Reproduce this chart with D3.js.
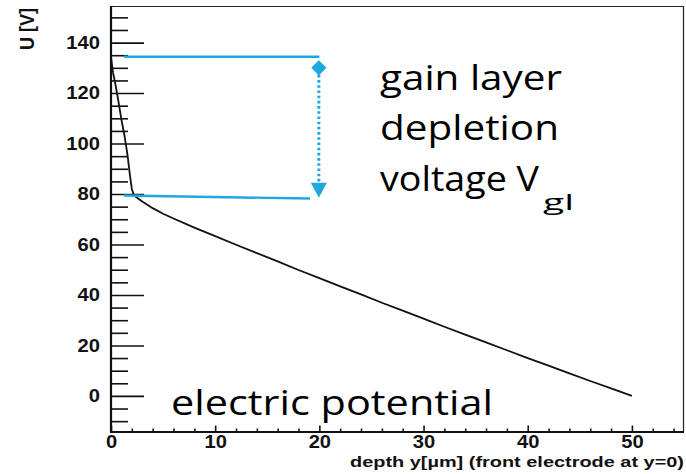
<!DOCTYPE html>
<html>
<head>
<meta charset="utf-8">
<script src="https://cdn.jsdelivr.net/npm/d3@7"></script>
<style>
  html, body { margin: 0; padding: 0; background: #fff; }
  svg { display: block; }
</style>
</head>
<body>
<svg id="chart" width="686" height="474"></svg>
<script>
// Electric potential U along the sensor depth y (µm)
const depth = [0, 0.1, 0.2, 0.4, 0.7, 1.0, 1.3, 1.6, 1.8, 2.0, 2.2, 2.6, 3, 4, 5, 6,
  8, 10, 12, 14, 16, 18, 20, 22, 24, 26, 28, 30, 32, 34, 36, 38, 40, 42, 44, 46, 48, 50];
const potential = [134.5, 131, 128, 124, 117, 109.5, 103, 95, 88, 82, 79.5, 78.2, 77, 74.4, 72.2, 70.3,
  66.7, 63.3, 59.9, 56.6, 53.3, 49.9, 46.7, 43.4, 40.2, 36.9, 33.8, 30.6, 27.4, 24.3, 21.2, 18.1,
  15.0, 12.0, 8.9, 5.9, 3.0, 0];

// Axis ticks
const xMajorTicks = [0, 10, 20, 30, 40, 50];
const xMinorTicks = [2, 4, 6, 8, 12, 14, 16, 18, 22, 24, 26, 28, 32, 34, 36, 38, 42, 44, 46, 48, 52, 54];
const yMajorTicks = [0, 20, 40, 60, 80, 100, 120, 140];
const yMinorTicks = [-10, -5, 5, 10, 15, 25, 30, 35, 45, 50, 55, 65, 70, 75, 85, 90, 95, 105, 110, 115, 125, 130, 135, 145, 150];

// Gain layer depletion voltage marker: start/end depth and the two voltage levels
const markerDepth = [1.25, 20.0];
const markerLowerEndDepth = [1.25, 19.1];
const markerUpper = [134.4, 134.4];
const markerLower = [79.4, 78.2];
const arrowDepth = [19.95];
const arrowRange = [130, 78.5];

const labelLines = ["gain layer", "depletion", "voltage V"];
const labelSub = "gl";
const curveLabel = "electric potential";
const xTitle = "depth y[µm] (front electrode at y=0)";
const yTitle = "U [V]";

const svg = d3.select("#chart");
const plotLeft = 111, plotRight = 684, plotTop = 6, plotBottom = 432;

const x = d3.scaleLinear().domain([0, 55]).range([plotLeft, plotRight]);
const y = d3.scaleLinear().domain([-14.3, 154.5]).range([plotBottom, plotTop]);

const blue = "#1ea7e1";
const tickFont = "'Liberation Sans', Arial, Helvetica, sans-serif";

// Frame (thin top and right)
svg.append("line").attr("x1", plotLeft).attr("x2", plotRight).attr("y1", plotTop + 0.5).attr("y2", plotTop + 0.5)
  .attr("stroke", "#222").attr("stroke-width", 1.2);
svg.append("line").attr("x1", plotRight - 0.5).attr("x2", plotRight - 0.5).attr("y1", plotTop).attr("y2", plotBottom)
  .attr("stroke", "#222").attr("stroke-width", 1.2);

// Y axis: minor ticks, then major ticks with labels (ticks point into the plot)
const yMinor = svg.append("g").attr("transform", `translate(${plotLeft},0)`)
  .call(d3.axisLeft(y).tickValues(yMinorTicks).tickSizeInner(-17).tickSizeOuter(0).tickFormat(""));
const yMajor = svg.append("g").attr("transform", `translate(${plotLeft},0)`)
  .call(d3.axisLeft(y).tickValues(yMajorTicks).tickSizeInner(-33).tickSizeOuter(0).tickPadding(11).tickFormat(d3.format("d")));

// X axis
const xMinor = svg.append("g").attr("transform", `translate(0,${plotBottom})`)
  .call(d3.axisBottom(x).tickValues(xMinorTicks).tickSizeInner(-3.5).tickSizeOuter(0).tickFormat(""));
const xMajor = svg.append("g").attr("transform", `translate(0,${plotBottom})`)
  .call(d3.axisBottom(x).tickValues(xMajorTicks).tickSizeInner(-6.5).tickSizeOuter(0).tickPadding(3.5).tickFormat(d3.format("d")));

[yMinor, yMajor, xMinor, xMajor].forEach(g => {
  g.selectAll(".domain").remove();
  g.selectAll(".tick line").attr("stroke", "#111").attr("stroke-width", 1.6);
  g.selectAll(".tick text").attr("fill", "#111")
    .style("font-family", tickFont).style("font-weight", "bold").style("font-size", "18px");
});
xMajor.selectAll(".tick text").attr("transform", "scale(1.12,1)");
yMajor.selectAll(".tick text").each(function () {
  const t = d3.select(this);
  const tx = +t.attr("x");
  t.attr("x", 0).attr("transform", `translate(${tx},0) scale(1.12,1)`);
});

// Main axis lines
svg.append("line").attr("x1", plotLeft).attr("x2", plotLeft).attr("y1", plotTop).attr("y2", plotBottom + 1)
  .attr("stroke", "#111").attr("stroke-width", 2.2);
svg.append("line").attr("x1", plotLeft - 1).attr("x2", plotRight).attr("y1", plotBottom).attr("y2", plotBottom)
  .attr("stroke", "#111").attr("stroke-width", 2.2);

// Axis titles
svg.append("text")
  .attr("x", plotRight).attr("y", 466.5)
  .attr("text-anchor", "end")
  .attr("textLength", 334).attr("lengthAdjust", "spacingAndGlyphs")
  .style("font-family", tickFont).style("font-weight", "bold").style("font-size", "15px")
  .attr("fill", "#111")
  .text(xTitle);
svg.append("text")
  .attr("transform", "translate(34,8) rotate(-90)")
  .attr("text-anchor", "end")
  .attr("textLength", 42).attr("lengthAdjust", "spacingAndGlyphs")
  .style("font-family", tickFont).style("font-weight", "bold").style("font-size", "20px")
  .attr("fill", "#111")
  .text(yTitle);

// Potential curve
const pts = depth.map((d, i) => [d, potential[i]]);
svg.append("path")
  .datum(pts)
  .attr("fill", "none")
  .attr("stroke", "#111")
  .attr("stroke-width", 1.8)
  .attr("stroke-linejoin", "round")
  .attr("d", d3.line().x(d => x(d[0])).y(d => y(d[1])));

// Gain layer depletion voltage marker
svg.append("line")
  .attr("x1", x(markerDepth[0])).attr("x2", x(markerDepth[1]))
  .attr("y1", y(markerUpper[0])).attr("y2", y(markerUpper[1]))
  .attr("stroke", blue).attr("stroke-width", 2.4);
svg.append("line")
  .attr("x1", x(markerLowerEndDepth[0])).attr("x2", x(markerLowerEndDepth[1]))
  .attr("y1", y(markerLower[0])).attr("y2", y(markerLower[1]))
  .attr("stroke", blue).attr("stroke-width", 2.4);

const ax = x(arrowDepth[0]);
const yTopArrow = y(arrowRange[0]);
const yTipArrow = y(arrowRange[1]);
svg.append("line")
  .attr("x1", ax).attr("x2", ax)
  .attr("y1", yTopArrow + 7).attr("y2", yTipArrow - 14)
  .attr("stroke", blue).attr("stroke-width", 3)
  .attr("stroke-dasharray", "2.6,2.6");
svg.append("path")
  .attr("d", d3.symbol().type(d3.symbolDiamond2).size(150)())
  .attr("transform", `translate(${ax},${yTopArrow})`)
  .attr("fill", blue);
svg.append("path")
  .attr("d", `M${ax - 8},${yTipArrow - 15} L${ax + 8},${yTipArrow - 15} L${ax},${yTipArrow} Z`)
  .attr("fill", blue);

// Annotation text
const annFont = "'Open Sans', 'Noto Sans', sans-serif";
const lineLengths = [182, 179, 159];
const lineBaselines = [90, 140, 191];
labelLines.forEach((t, i) => {
  svg.append("text")
    .attr("x", 380).attr("y", lineBaselines[i])
    .attr("textLength", lineLengths[i]).attr("lengthAdjust", "spacingAndGlyphs")
    .style("font-family", annFont).style("font-size", "35px")
    .attr("fill", "#000")
    .text(t);
});
svg.append("text")
  .attr("x", 543).attr("y", 210)
  .attr("textLength", 31).attr("lengthAdjust", "spacingAndGlyphs")
  .style("font-family", annFont).style("font-size", "21px")
  .attr("fill", "#000")
  .text(labelSub);
svg.append("text")
  .attr("x", 171).attr("y", 415)
  .attr("textLength", 322).attr("lengthAdjust", "spacingAndGlyphs")
  .style("font-family", annFont).style("font-size", "35px")
  .attr("fill", "#000")
  .text(curveLabel);
</script>
</body>
</html>
